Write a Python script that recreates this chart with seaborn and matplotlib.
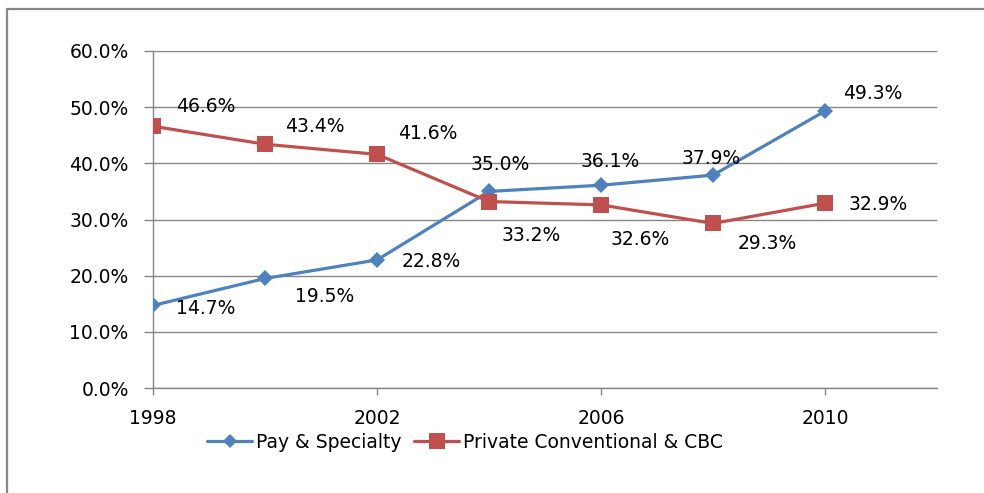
import matplotlib
matplotlib.use("Agg")
import matplotlib.pyplot as plt
import matplotlib.lines as mlines
import pandas as pd
import seaborn as sns

# data
years = [1998, 2000, 2002, 2004, 2006, 2008, 2010]
pay_specialty = [14.7, 19.5, 22.8, 35.0, 36.1, 37.9, 49.3]
private_conv = [46.6, 43.4, 41.6, 33.2, 32.6, 29.3, 32.9]
series_names = ["Pay & Specialty", "Private Conventional & CBC"]
# label offsets in pixels (dx, dy down-positive)
pay_offsets = [(53, 3), (60, 18), (54, 2), (11, -27), (9, -24), (-2, -17), (48, -18)]
priv_offsets = [(53, -20), (50, -18), (51, -21), (42, 34), (39, 35), (54, 20), (53, 1)]

df = pd.DataFrame({
    "year": years * 2,
    "value": pay_specialty + private_conv,
    "series": [series_names[0]] * len(years) + [series_names[1]] * len(years),
})

sns.set_style("white")
plt.rcParams['font.family'] = ['DejaVu Sans']
plt.rcParams['text.color'] = 'black'

blue = "#4F81BD"
red = "#C0504D"
grid_c = "#868686"
fs = 13.5

fig = plt.figure(figsize=(9.84, 4.93), dpi=100)
ax = fig.add_axes([153 / 984, 1 - 388 / 493, (937 - 153) / 984, (388 - 51) / 493])

sns.lineplot(data=df[df.series == series_names[0]], x="year", y="value", ax=ax,
             color=blue, marker="D", markersize=8, linewidth=2.3,
             markeredgewidth=0, legend=False, zorder=3)
sns.lineplot(data=df[df.series == series_names[1]], x="year", y="value", ax=ax,
             color=red, marker="s", markersize=12, linewidth=2.3,
             markeredgewidth=0, legend=False, zorder=4)

ax.set_xlim(1998, 1998 + (937 - 153) / 56)
ax.set_ylim(0, 60)
ax.set_yticks(range(0, 61, 10))
ax.set_yticklabels([f"{v:.1f}%" for v in range(0, 61, 10)])
ax.set_xticks([1998, 2002, 2006, 2010])
ax.set_xticklabels(["1998", "2002", "2006", "2010"])
ax.set_xlabel("")
ax.set_ylabel("")
ax.yaxis.grid(True, color=grid_c, linewidth=1)
ax.set_axisbelow(True)
for s in ["top", "right"]:
    ax.spines[s].set_visible(False)
for s in ["left", "bottom"]:
    ax.spines[s].set_color(grid_c)
    ax.spines[s].set_linewidth(1)
ax.tick_params(axis="both", colors=grid_c, labelcolor="black", labelsize=fs,
               direction="out", width=1, left=True, bottom=True)
ax.tick_params(axis="y", length=6.5, pad=11)
ax.tick_params(axis="x", length=5, pad=10)

k = 0.72  # px -> pt
for x, y, (dx, dy) in zip(years, pay_specialty, pay_offsets):
    ax.annotate(f"{y:.1f}%", (x, y), xytext=(dx * k, -dy * k), textcoords="offset points",
                ha="center", va="center", fontsize=fs, color="black")
for x, y, (dx, dy) in zip(years, private_conv, priv_offsets):
    ax.annotate(f"{y:.1f}%", (x, y), xytext=(dx * k, -dy * k), textcoords="offset points",
                ha="center", va="center", fontsize=fs, color="black")

handles = [
    mlines.Line2D([], [], color=blue, marker="D", markersize=7, linewidth=2.3, markeredgewidth=0),
    mlines.Line2D([], [], color=red, marker="s", markersize=11, linewidth=2.3, markeredgewidth=0),
]
fig.legend(handles, series_names, loc="center", bbox_to_anchor=(465 / 984, 1 - 442 / 493),
           ncol=2, frameon=False, fontsize=fs, handlelength=2.4, handletextpad=0.2,
           columnspacing=0.7, borderpad=0)

# outer frame (top and left)
fig.add_artist(mlines.Line2D([7 / 984, 1], [1 - 9 / 493, 1 - 9 / 493], color=grid_c, linewidth=1.6,
                             transform=fig.transFigure))
fig.add_artist(mlines.Line2D([7 / 984, 7 / 984], [0, 1 - 9 / 493], color=grid_c, linewidth=1.6,
                             transform=fig.transFigure))

fig.savefig("out.png", dpi=100)
